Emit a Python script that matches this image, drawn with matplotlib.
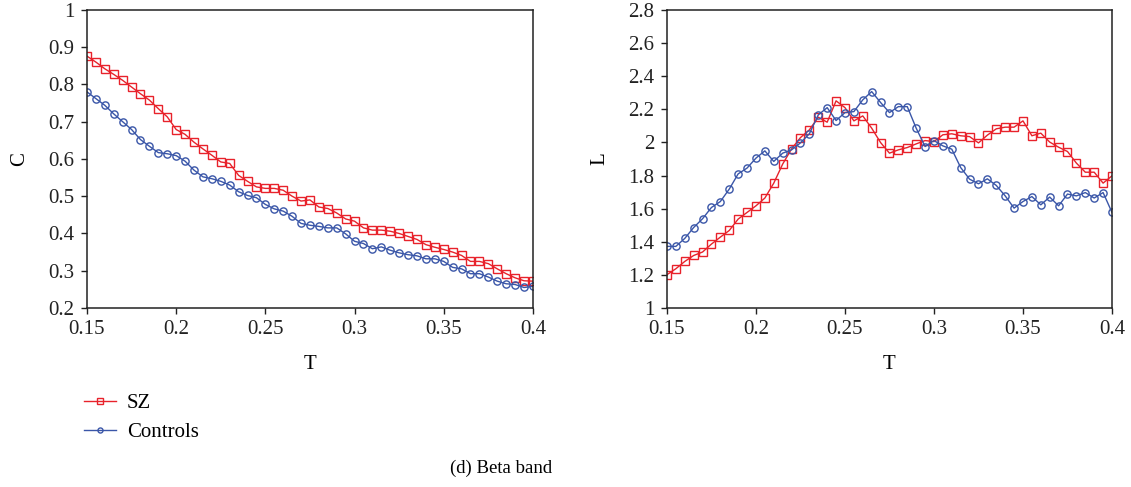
import numpy as np
import matplotlib.pyplot as plt
from matplotlib.ticker import FuncFormatter, MultipleLocator

plt.rcParams['font.family'] = ['Liberation Serif', 'DejaVu Serif']

# threshold values T = 0.15 ... 0.40, step 0.005
t = np.round(np.arange(0.15, 0.4001, 0.005), 3)

# clustering coefficient C (beta band)
c_sz = [0.876, 0.860, 0.842, 0.827, 0.811, 0.793, 0.775, 0.758, 0.735, 0.713,
        0.679, 0.666, 0.645, 0.627, 0.610, 0.592, 0.588, 0.556, 0.540, 0.525,
        0.521, 0.521, 0.516, 0.500, 0.487, 0.490, 0.471, 0.467, 0.455, 0.439,
        0.433, 0.415, 0.409, 0.409, 0.406, 0.400, 0.392, 0.384, 0.370, 0.363,
        0.357, 0.350, 0.341, 0.325, 0.325, 0.319, 0.305, 0.292, 0.281, 0.273,
        0.272]
c_ctrl = [0.780, 0.762, 0.744, 0.721, 0.700, 0.679, 0.652, 0.634, 0.617, 0.614,
          0.609, 0.594, 0.570, 0.552, 0.547, 0.540, 0.530, 0.512, 0.502, 0.496,
          0.478, 0.466, 0.460, 0.446, 0.427, 0.422, 0.419, 0.415, 0.415, 0.399,
          0.379, 0.373, 0.359, 0.364, 0.355, 0.348, 0.343, 0.340, 0.332, 0.332,
          0.325, 0.309, 0.305, 0.292, 0.292, 0.283, 0.272, 0.265, 0.263, 0.255,
          0.258]

# characteristic path length L (beta band)
l_sz = [1.201, 1.237, 1.281, 1.317, 1.338, 1.386, 1.428, 1.468, 1.537, 1.577,
        1.617, 1.664, 1.754, 1.869, 1.961, 2.029, 2.076, 2.152, 2.122, 2.251,
        2.210, 2.130, 2.160, 2.086, 1.999, 1.935, 1.955, 1.969, 1.991, 2.011,
        2.005, 2.046, 2.052, 2.040, 2.035, 1.997, 2.044, 2.082, 2.092, 2.092,
        2.130, 2.040, 2.056, 2.002, 1.971, 1.945, 1.875, 1.820, 1.820, 1.754,
        1.798]
l_ctrl = [1.372, 1.372, 1.420, 1.486, 1.539, 1.607, 1.643, 1.718, 1.810, 1.845,
          1.905, 1.949, 1.885, 1.935, 1.955, 1.997, 2.052, 2.166, 2.210, 2.132,
          2.180, 2.186, 2.257, 2.307, 2.241, 2.180, 2.216, 2.216, 2.086, 1.975,
          2.011, 1.979, 1.959, 1.848, 1.778, 1.750, 1.780, 1.740, 1.677, 1.603,
          1.643, 1.673, 1.623, 1.670, 1.617, 1.688, 1.677, 1.697, 1.664, 1.697,
          1.577]

RED = '#e8222b'
BLUE = '#3a56a8'

fig = plt.figure(figsize=(11.31, 4.87), dpi=100)
ax1 = fig.add_axes([0.0769, 0.3676, 0.3943, 0.612])
ax2 = fig.add_axes([0.5897, 0.3676, 0.3935, 0.612])

fmt = FuncFormatter(lambda v, p: '%g' % round(v, 2))


def style(ax, ylim, ystep, ylabel):
    ax.set_xlim(0.15, 0.4)
    ax.set_ylim(*ylim)
    ax.xaxis.set_major_locator(MultipleLocator(0.05))
    ax.yaxis.set_major_locator(MultipleLocator(ystep))
    ax.xaxis.set_major_formatter(fmt)
    ax.yaxis.set_major_formatter(fmt)
    ax.tick_params(direction='out', length=4, width=1, labelsize=15,
                   colors='#222222', pad=5)
    for s in ax.spines.values():
        s.set_linewidth(1.1)
        s.set_color('#222222')
    ax.set_xlabel('T', fontsize=15, labelpad=11)
    ax.set_ylabel(ylabel, fontsize=15, labelpad=14)


kw = dict(linewidth=1, markersize=5.2, markerfacecolor='none', markeredgewidth=1)
ax1.plot(t, c_sz, color=RED, marker='s', label='SZ', **kw)
ax1.plot(t, c_ctrl, color=BLUE, marker='o', label='Controls', **kw)
style(ax1, (0.2, 1.0), 0.1, 'C')

ax2.plot(t, l_sz, color=RED, marker='s', **kw)
ax2.plot(t, l_ctrl, color=BLUE, marker='o', **kw)
style(ax2, (1.0, 2.8), 0.2, 'L')

h, lab = ax1.get_legend_handles_labels()
fig.legend(h, lab, loc='upper left', bbox_to_anchor=(0.058, 0.23), frameon=False,
           fontsize=15, handlelength=1.5, markerscale=0.7, labelspacing=0.45,
           handletextpad=0.55)

fig.text(0.443, 0.039, '(d) Beta band', ha='center', va='center', fontsize=13.5)

fig.savefig('out.png', dpi=100)
